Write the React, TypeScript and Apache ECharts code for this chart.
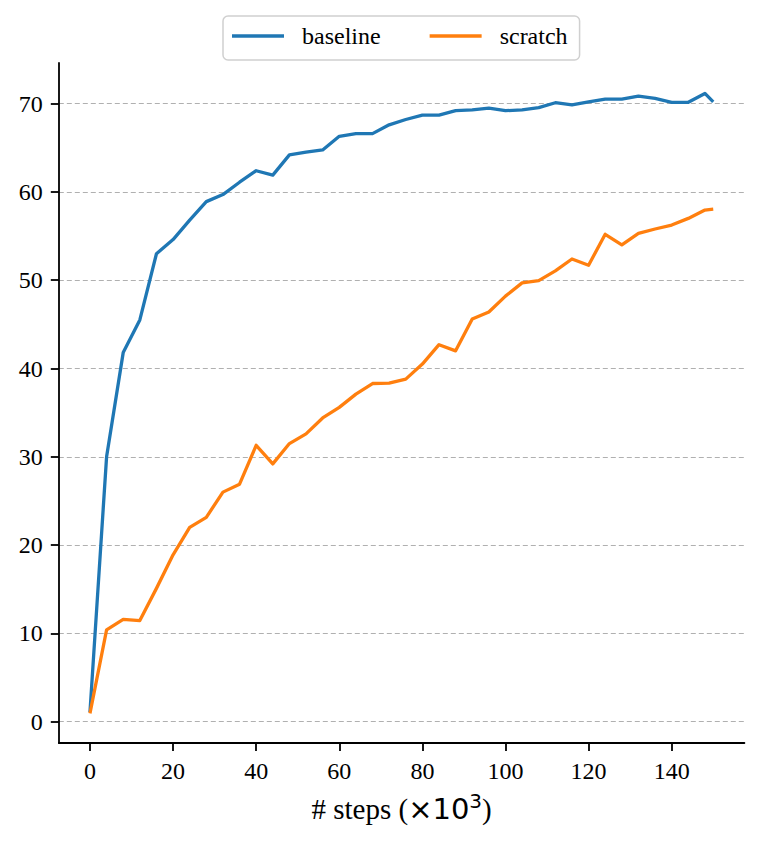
import React, { useEffect, useRef } from "react";
import * as echarts from "echarts";

const steps = [0, 4, 8, 12, 16, 20, 24, 28, 32, 36, 40, 44, 48, 52, 56, 60, 64, 68, 72, 76, 80, 84, 88, 92, 96, 100, 104, 108, 112, 116, 120, 124, 128, 132, 136, 140, 144, 148, 150];
const baseline = [1.1, 30.0, 41.8, 45.5, 53.0, 54.6, 56.8, 58.9, 59.7, 61.1, 62.4, 61.9, 64.2, 64.5, 64.75, 66.3, 66.6, 66.6, 67.6, 68.2, 68.7, 68.7, 69.2, 69.3, 69.5, 69.2, 69.3, 69.55, 70.1, 69.85, 70.2, 70.5, 70.5, 70.85, 70.6, 70.15, 70.15, 71.15, 70.2];
const scratch = [0.95, 10.4, 11.6, 11.45, 15.1, 18.9, 22.0, 23.15, 26.0, 26.9, 31.3, 29.2, 31.5, 32.6, 34.4, 35.6, 37.1, 38.3, 38.35, 38.8, 40.5, 42.7, 42.0, 45.6, 46.4, 48.2, 49.7, 49.95, 51.05, 52.4, 51.7, 55.2, 54.0, 55.3, 55.8, 56.25, 57.0, 57.95, 58.05];
const xTicks = [0, 20, 40, 60, 80, 100, 120, 140];
const yTicks = [0, 10, 20, 30, 40, 50, 60, 70];
const seriesNames = ["baseline", "scratch"];

const SERIF = "'Liberation Serif', 'Times New Roman', serif";
const SANS = "'DejaVu Sans', sans-serif";

export default function App() {
  const ref = useRef<HTMLDivElement>(null);
  useEffect(() => {
    document.body.style.margin = "0";
    if (!ref.current) return;
    const chart = echarts.init(ref.current, undefined, { renderer: "svg" });
    const toPairs = (ys: number[]) => steps.map((x, i) => [x, ys[i]]);
    chart.setOption({
      animation: false,
      backgroundColor: "#ffffff",
      grid: { left: 58.8, right: 17.6, top: 63, bottom: 102.1, containLabel: false },
      legend: {
        left: 223,
        top: 16,
        icon: "rect",
        itemWidth: 52,
        itemHeight: 3.5,
        itemGap: 49,
        padding: [8, 12, 12, 9],
        backgroundColor: "#ffffff",
        borderColor: "#d0d0d0",
        borderWidth: 1.5,
        borderRadius: 5,
        textStyle: { fontFamily: SERIF, fontSize: 24, color: "#000", lineHeight: 24, padding: [0, 0, 0, 13] },
        data: seriesNames,
      },
      xAxis: {
        type: "value",
        min: -7.5,
        max: 157.5,
        name: "{a|# steps (}{b|×10}{c|3}{a|)}",
        nameLocation: "middle",
        nameGap: 48,
        nameTextStyle: {
          rich: {
            a: { fontFamily: SERIF, fontSize: 29, lineHeight: 36, color: "#000" },
            b: { fontFamily: SANS, fontSize: 29, color: "#000" },
            c: { fontFamily: SANS, fontSize: 20, lineHeight: 20, verticalAlign: "top", color: "#000" },
          },
        },
        axisLine: { show: true, onZero: false, lineStyle: { color: "#000", width: 1.8 } },
        axisTick: { show: true, customValues: xTicks, length: 8, lineStyle: { color: "#000", width: 1.8 } },
        axisLabel: { customValues: xTicks, margin: 16, fontFamily: SERIF, fontSize: 24, color: "#000" },
        splitLine: { show: false },
      },
      yAxis: {
        type: "value",
        min: -2.4,
        max: 74.6,
        axisLine: { show: true, onZero: false, lineStyle: { color: "#000", width: 1.8 } },
        axisTick: { show: true, customValues: yTicks, length: 8, lineStyle: { color: "#000", width: 1.8 } },
        axisLabel: { customValues: yTicks, margin: 16, fontFamily: SERIF, fontSize: 24, color: "#000" },
        splitLine: { show: true, lineStyle: { color: "#b0b0b0", width: 1, type: [5, 3] } },
      },
      series: [
        {
          name: seriesNames[0],
          type: "line",
          data: toPairs(baseline),
          showSymbol: false,
          symbol: "none",
          color: "#1f77b4",
          lineStyle: { color: "#1f77b4", width: 3.3, join: "round" },
          z: 3,
        },
        {
          name: seriesNames[1],
          type: "line",
          data: toPairs(scratch),
          showSymbol: false,
          symbol: "none",
          color: "#ff7f0e",
          lineStyle: { color: "#ff7f0e", width: 3.3, join: "round" },
          z: 4,
        },
      ],
    });
    return () => chart.dispose();
  }, []);
  return <div ref={ref} style={{ width: 762, height: 845 }} />;
}
